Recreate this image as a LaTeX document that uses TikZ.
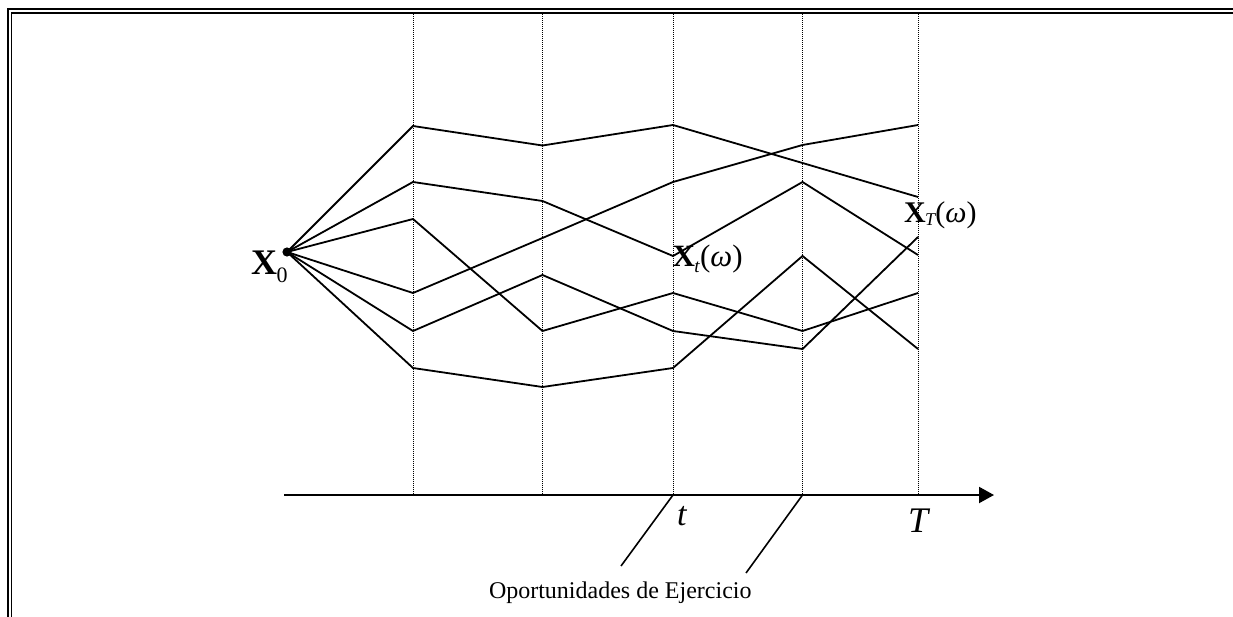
\documentclass[tikz,border=0pt]{standalone}
\usepackage{fontspec}
\setmainfont{Liberation Serif}
\usetikzlibrary{arrows.meta}
\begin{document}
\begin{tikzpicture}[x=1pt,y=-1pt,
  trajectory/.style={line width=1.8pt, line join=miter},
  gridline/.style={line width=1pt, dash pattern=on 1pt off 1pt},
  leader/.style={line width=1.6pt},
  lbl/.style={inner sep=0pt, outer sep=0pt, anchor=base west}]
\useasboundingbox (0,0) rectangle (1233,617);
% frame (top and left, double line)
\draw[line width=2.2pt] (8,617) -- (8,9) -- (1233,9);
\draw[line width=1.8pt] (11.5,617) -- (11.5,13) -- (1233,13);
% dotted time lines
\foreach \x/\n in {413/g1,542.5/g2,673/g3,802.5/g4,918/g5}{
  \coordinate (\n top) at (\x,14.5);
  \coordinate (\n) at (\x,495);
  \draw[gridline] (\n top) -- (\n);
}
% axis
\coordinate (axL) at (284,495);
\coordinate (axR) at (994,495);
\draw[line width=2pt, -{Triangle[length=15pt,width=16pt]}] (axL) -- (axR);
% trajectories
\coordinate (X0) at (287,252);
\draw[trajectory] (X0) -- (413,126) -- (542.5,145.5) -- (673,125) -- (802.5,163) -- (918,197);
\draw[trajectory] (X0) -- (413,182) -- (542.5,201) -- (673,256) -- (802.5,182) -- (918,255);
\draw[trajectory] (X0) -- (413,219) -- (542.5,331) -- (673,293) -- (802.5,331) -- (918,293);
\draw[trajectory] (X0) -- (413,293) -- (542.5,238) -- (673,182) -- (802.5,145) -- (918,125);
\draw[trajectory] (X0) -- (413,331) -- (542.5,275) -- (673,331) -- (802.5,349) -- (918,237);
\draw[trajectory] (X0) -- (413,368) -- (542.5,387) -- (673,368) -- (802.5,256) -- (918,349);
\fill (X0) circle (4.6pt);
% labels
\node[lbl] (x0lab) at (251,275) {\fontsize{36}{36}\selectfont\bfseries X\kern-0.5pt\raisebox{-8pt}{\fontsize{22}{22}\selectfont\mdseries 0}};
\node[lbl] (xtlab) at (672.5,267) {\fontsize{31}{31}\selectfont\textbf{X}\kern-0.5pt\raisebox{-6pt}{\fontsize{19}{19}\selectfont\itshape t}\kern0.5pt(\textit{ω})};
\node[lbl] (xTlab) at (904,223) {\fontsize{30}{30}\selectfont\textbf{X}\kern-0.5pt\raisebox{-2.5pt}{\fontsize{18}{18}\selectfont\itshape T}\kern0.3pt(\textit{ω})};
\node[lbl] (tlab) at (677,525) {\fontsize{34}{34}\selectfont\itshape t};
\node[lbl] (Tlab) at (908,532) {\fontsize{36}{36}\selectfont\itshape T};
% leaders
\coordinate (l1) at (621,566);
\coordinate (l2) at (746,573);
\draw[leader] (g3) -- (l1);
\draw[leader] (g4) -- (l2);
\node[lbl] (oport) at (489,598) {\fontsize{24}{24}\selectfont Oportunidades de Ejercicio};
\end{tikzpicture}
\end{document}
